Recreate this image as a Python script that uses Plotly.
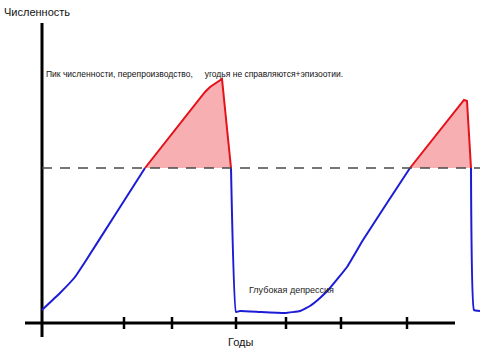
import plotly.graph_objects as go

# Hand-drawn population cycle diagram (units: arbitrary "years" and "population")
threshold = 155

blue1_x = [42, 60, 75, 85, 115, 145]
blue1_y = [13, 30, 46, 61, 108, 155]

red1_x = [145, 165, 185, 205, 210, 216, 222, 231]
red1_y = [155, 180, 205, 231, 236, 240, 244, 155]

blue2_x = [231, 236, 240, 260, 285, 300, 310, 320, 330, 347, 363, 387, 410]
blue2_y = [155, 11, 12, 11, 10, 12, 17, 25, 35, 56, 83, 120, 155]

red2_x = [410, 430, 450, 460, 464, 467, 471]
red2_y = [155, 180, 205, 218, 223, 222, 155]

blue3_x = [471, 474, 480]
blue3_y = [155, 13, 12]

tick_years = [124, 172, 236, 286, 341, 407]
xaxis_span = [25, 455]
yaxis_year = 42
yaxis_span = [-14, 300]
dash_span = [42, 480]

BLUE = "#1c1cd6"
RED = "#e3121b"
FILL = "rgba(240,110,115,0.55)"

fig = go.Figure()

# pink fills
for xs, ys in [(red1_x, red1_y), (red2_x, red2_y)]:
    fig.add_trace(go.Scatter(x=xs + [xs[0]], y=ys + [ys[0]], mode="lines",
                             fill="toself", fillcolor=FILL,
                             line=dict(width=0, color=FILL), hoverinfo="skip"))

# axes
fig.add_trace(go.Scatter(x=xaxis_span, y=[0, 0], mode="lines",
                         line=dict(color="black", width=3)))
fig.add_trace(go.Scatter(x=[yaxis_year, yaxis_year], y=yaxis_span, mode="lines",
                         line=dict(color="black", width=3)))
tx, ty = [], []
for t in tick_years:
    tx += [t, t, None]
    ty += [-6, 6, None]
fig.add_trace(go.Scatter(x=tx, y=ty, mode="lines", line=dict(color="black", width=2.5)))

# curves
for xs, ys in [(blue1_x, blue1_y), (blue2_x, blue2_y), (blue3_x, blue3_y)]:
    fig.add_trace(go.Scatter(x=xs, y=ys, mode="lines",
                             line=dict(color=BLUE, width=2, shape="spline", smoothing=0.3)))
for xs, ys in [(red1_x, red1_y), (red2_x, red2_y)]:
    fig.add_trace(go.Scatter(x=xs, y=ys, mode="lines",
                             line=dict(color=RED, width=2)))

# threshold dashed line
fig.add_trace(go.Scatter(x=dash_span, y=[threshold, threshold], mode="lines",
                         line=dict(color="#4a4a4a", width=1.5, dash="10px,8px")))

font = "Liberation Sans, Arial, sans-serif"
fig.update_layout(
    width=480, height=359, margin=dict(l=0, r=0, t=0, b=0),
    paper_bgcolor="white", plot_bgcolor="white", showlegend=False,
    xaxis=dict(range=[0, 480], visible=False, fixedrange=True),
    yaxis=dict(range=[-36, 323], visible=False, fixedrange=True),
    annotations=[
        dict(x=2, y=311, xref="x", yref="y", text="Численность", showarrow=False,
             xanchor="left", yanchor="middle", font=dict(family=font, size=11, color="#111")),
        dict(x=44, y=249, xref="x", yref="y",
             text="Пик численности, перепроизводство,\u00a0\u00a0\u00a0\u00a0 угодья не справляются+эпизоотии.",
             showarrow=False, xanchor="left", yanchor="middle",
             font=dict(family=font, size=8.5, color="#111")),
        dict(x=247, y=33, xref="x", yref="y", text="Глубокая депрессия", showarrow=False,
             xanchor="left", yanchor="middle", font=dict(family=font, size=9, color="#222")),
        dict(x=241, y=-19, xref="x", yref="y", text="Годы", showarrow=False,
             xanchor="center", yanchor="middle", font=dict(family=font, size=11, color="#111")),
    ],
)

fig.write_html("out.html", config={"displayModeBar": False},
               post_script="document.body.style.margin='0px';")
